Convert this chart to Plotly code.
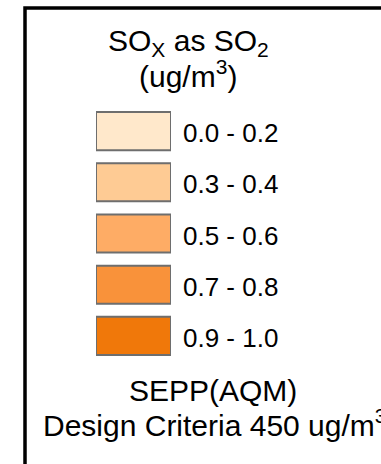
import plotly.graph_objects as go

# Legend classes
range_labels = ["0.0 - 0.2", "0.3 - 0.4", "0.5 - 0.6", "0.7 - 0.8", "0.9 - 1.0"]
swatch_values = [1, 1, 1, 1, 1]
swatch_colors = ["#FFE8CB", "#FECB94", "#FEAC65", "#F9923A", "#F0780A"]

title_line1 = "SO<sub>X</sub> as SO<sub>2</sub>"
title_line2 = "(ug/m<sup>3</sup>)"
note_line1 = "SEPP(AQM)"
note_line2 = "Design Criteria 450 ug/m<sup>3</sup>"

W, H = 381, 464
FONT = "Liberation Sans, Arial, sans-serif"

def px_x(x):
    return x / W

def px_y(y):
    return 1 - y / H

fig = go.Figure()
fig.add_trace(go.Bar(
    y=range_labels,
    x=swatch_values,
    orientation="h",
    marker=dict(color=swatch_colors, line=dict(color="#6E6E6E", width=2)),
    hoverinfo="skip",
    cliponaxis=False,
))

# range labels placed at each bar's end through the data axes
for lab, val in zip(range_labels, swatch_values):
    fig.add_annotation(
        text=lab, xref="x", yref="y", x=val, y=lab,
        xanchor="left", yanchor="middle", xshift=10, yshift=-2,
        showarrow=False, font=dict(family=FONT, size=26, color="black"),
    )

fig.update_layout(
    width=W, height=H,
    margin=dict(l=0, r=0, t=0, b=0),
    paper_bgcolor="white", plot_bgcolor="white",
    showlegend=False,
    bargap=13 / 51,
    xaxis=dict(domain=[px_x(96), px_x(171)], range=[0, 1], visible=False, fixedrange=True),
    yaxis=dict(
        domain=[px_y(361.5), px_y(105.5)],
        categoryorder="array", categoryarray=range_labels, autorange="reversed",
        visible=False, fixedrange=True,
    ),
    shapes=[dict(
        type="rect", xref="paper", yref="paper",
        x0=px_x(25), x1=1.2, y0=-0.2, y1=px_y(8),
        line=dict(color="black", width=3.5), fillcolor="rgba(0,0,0,0)",
        layer="above",
    )],
)

def ann(text, xc, yc, size):
    fig.add_annotation(
        text=text, xref="paper", yref="paper",
        x=px_x(xc), y=px_y(yc), xanchor="center", yanchor="middle",
        showarrow=False, font=dict(family=FONT, size=size, color="black"),
    )

ann(title_line1, 188, 43, 30)
ann(title_line2, 188, 74, 30)
ann(note_line1, 213, 390, 30)
ann(note_line2, 215, 423, 30)

fig.write_html("out.html")
